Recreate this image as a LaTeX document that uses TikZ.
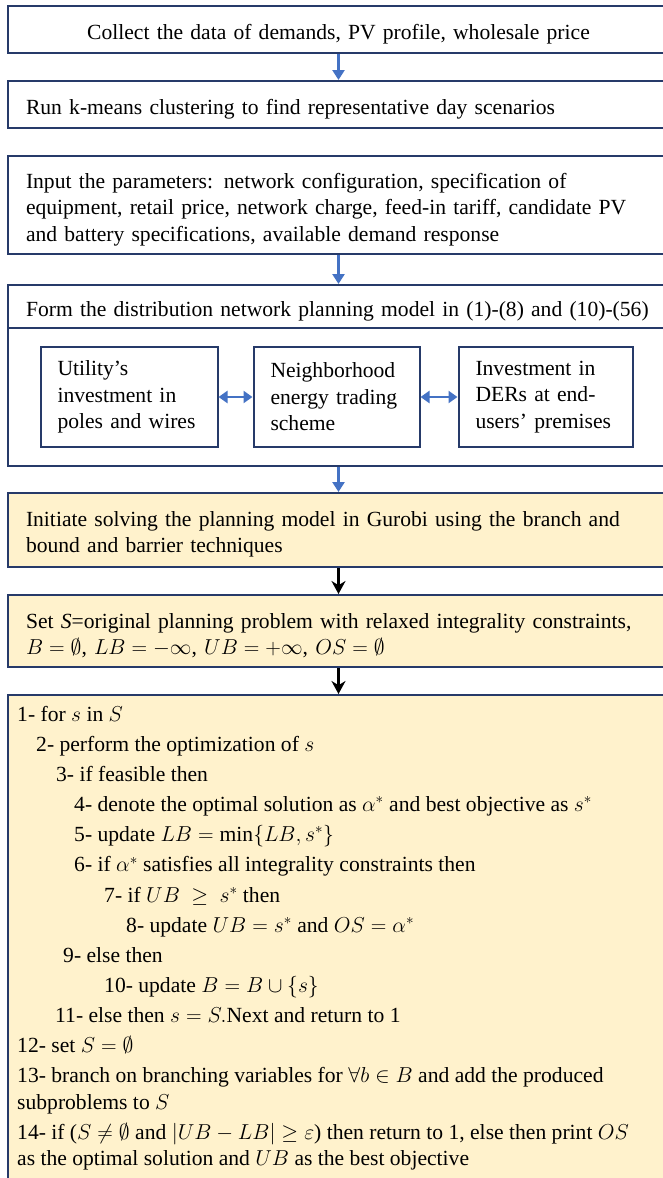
\documentclass[tikz,border=0pt]{standalone}
\usepackage{fix-cm}
\usepackage{amsmath,amssymb}
\usepackage{fontspec}
\setmainfont{Liberation Serif}
\usepackage{tikz}
\usetikzlibrary{arrows.meta,positioning}
\definecolor{boxline}{RGB}{38,58,105}
\definecolor{boxfill}{RGB}{255,242,204}
\definecolor{flowblue}{RGB}{68,114,196}
\newcommand\mainsize{\fontsize{21.6}{26.5}\selectfont}
\newcommand\lift{\rule{0pt}{24pt}}
\tikzset{
  stepbox/.style ={draw=boxline, line width=2pt, minimum width=661pt, text width=625pt,
                   inner xsep=18pt, inner ysep=4pt, align=left},
  subbox/.style  ={draw=boxline, line width=2pt, minimum height=100pt, inner xsep=17pt, align=left},
  flowarrow/.style={draw=flowblue, line width=2.5pt, -{Triangle[length=10pt,width=12pt]}},
  duoarrow/.style ={draw=flowblue, line width=2.5pt, {Triangle[length=9pt,width=12pt]}-{Triangle[length=9pt,width=12pt]}},
  solvearrow/.style={draw=black, line width=3pt, -{Stealth[length=13pt,width=14pt]}},
}

\begin{document}
\begin{tikzpicture}[x=1pt,y=-1pt,font=\rmfamily\mainsize,node distance=26pt]
  \useasboundingbox (0,0) rectangle (663,1178);
  \clip (0,0) rectangle (663,1178);
  % data preparation
  \node[stepbox,anchor=north west,align=center,minimum height=47pt] (collect) at (7,5)
    {\lift Collect the data of demands, PV profile, wholesale price};
  \node[stepbox,below=of collect,minimum height=47pt] (kmeans)
    {\lift Run k-means clustering to find representative day scenarios};
  \node[stepbox,below=of kmeans,minimum height=98pt] (input)
    {\lift Input the parameters: network configuration, specification of\\
     equipment, retail price, network charge, feed-in tariff, candidate PV\\
     and battery specifications, available demand response};
  % planning model
  \node[stepbox,below=29pt of input,minimum height=43pt] (form)
    {\lift Form the distribution network planning model in (1)-(8) and (10)-(56)};
  \node[stepbox,below=-2pt of form,minimum height=138pt] (formbody) {};
  \node[subbox,text width=132pt] (trade) at ([xshift=-2pt]formbody.center)
    {Neighborhood\\energy trading\\scheme};
  \node[subbox,text width=143pt,left=34pt of trade] (utility)
    {Utility’s\\investment in\\poles and wires};
  \node[subbox,text width=140pt,right=37pt of trade] (der)
    {Investment in\\DERs at end-\\users’ premises};
  % solution
  \node[stepbox,fill=boxfill,below=25pt of formbody,minimum height=74pt] (initiate)
    {\lift Initiate solving the planning model in Gurobi using the branch and\\
     bound and barrier techniques};
  \node[stepbox,fill=boxfill,below=of initiate,minimum height=72pt] (set)
    {\lift Set \textit{S}=original planning problem with relaxed integrality constraints,\\
     $B=\emptyset$, $LB=-\infty$, $UB=+\infty$, $OS=\emptyset$};
  \node[stepbox,fill=boxfill,below=of set,minimum height=520pt] (algo) {};
  \node[anchor=north west,inner sep=0pt,align=left] (algotext)
    at ([shift={(10pt,-12pt)}]algo.north west)
    {1- for $s$ in $S$\\[3.6pt]
     \hspace*{19pt}2- perform the optimization of $s$\\[3.6pt]
     \hspace*{39pt}3- if feasible then\\[3.6pt]
     \hspace*{57pt}4- denote the optimal solution as $\alpha^*$ and best objective as $s^*$\\[3.6pt]
     \hspace*{57pt}5- update $LB=\min\{LB,s^*\}$\\[3.6pt]
     \hspace*{57pt}6- if $\alpha^*$ satisfies all integrality constraints then\\[3.6pt]
     \hspace*{87pt}7- if $UB\ \geq\ s^*$ then\\[3.6pt]
     \hspace*{109pt}8- update $UB=s^*$ and $OS=\alpha^*$\\[3.6pt]
     \hspace*{46pt}9- else then\\[3.6pt]
     \hspace*{87pt}10- update $B=B\cup\{s\}$\\[3.6pt]
     \hspace*{38pt}11- else then $s=S.$Next and return to 1\\[3.6pt]
     12- set $S=\emptyset$\\[3.6pt]
     13- branch on branching variables for $\forall b\in B$ and add the produced\\
     subproblems to $S$\\[3.6pt]
     14- if ($S\neq\emptyset$ and $|UB-LB|\geq\varepsilon$) then return to 1, else then print $OS$\\
     as the optimal solution and $UB$ as the best objective};
  % connectors
  \draw[flowarrow] (collect) -- (kmeans);
  \draw[flowarrow] (input) -- (form);
  \draw[duoarrow] (utility) -- (trade);
  \draw[duoarrow] (trade) -- (der);
  \draw[flowarrow] (formbody) -- (initiate);
  \draw[solvearrow] (initiate) -- (set);
  \draw[solvearrow] (set) -- (algo);
\end{tikzpicture}
\end{document}
